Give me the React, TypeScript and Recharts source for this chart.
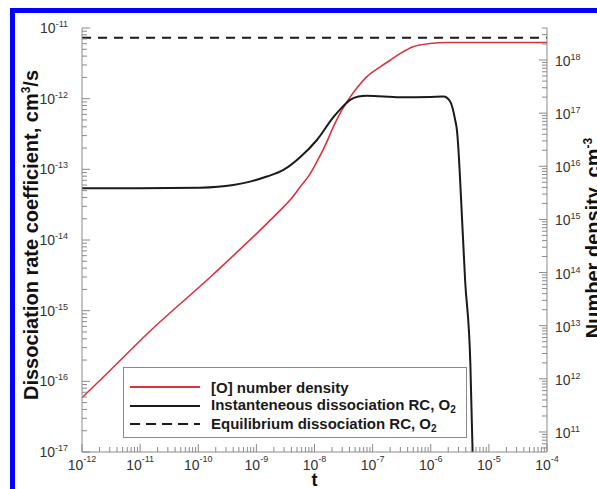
import React from 'react';
import { LineChart, Line, XAxis, YAxis, Legend } from 'recharts';

// ---------- data ----------
const T_DOMAIN: [number, number] = [1e-12, 1e-4];
const K_DOMAIN: [number, number] = [1e-17, 1e-11];
const N_DOMAIN: [number, number] = [4.2e10, 4.0e18];

// [O] number density (right axis)
const oTime = [1e-12, 3.16e-12, 1.3e-11, 1.82e-10, 2.56e-9, 3.8e-9, 5.65e-9, 8.4e-9, 1.15e-8, 1.52e-8, 2.11e-8, 2.99e-8, 4.1e-8, 5.62e-8, 7.9e-8, 1.35e-7, 2.0e-7, 2.97e-7, 4.98e-7, 9.8e-7, 1.9e-6, 1e-5, 1e-4];
const oDensity = [4.4e11, 1.5e12, 6.9e12, 9.3e13, 1.48e15, 2.31e15, 4.06e15, 7.2e15, 1.33e16, 2.44e16, 5.5e16, 1.16e17, 2.0e17, 3.16e17, 4.8e17, 7.4e17, 9.9e17, 1.32e18, 1.77e18, 2.04e18, 2.13e18, 2.14e18, 2.14e18];

// Instantaneous dissociation rate coefficient (left axis)
const instTime = [1e-12, 1e-11, 1.07e-10, 4.0e-10, 7.8e-10, 1.51e-9, 2.92e-9, 5.65e-9, 1.1e-8, 2.11e-8, 2.95e-8, 4.1e-8, 5.7e-8, 7.9e-8, 2.97e-7, 1.0e-6, 1.66e-6, 2.16e-6, 2.63e-6, 2.82e-6, 3.0e-6, 3.2e-6, 3.9e-6, 4.8e-6, 5.25e-6];
const instRate = [5.4e-14, 5.4e-14, 5.5e-14, 6.0e-14, 6.7e-14, 7.9e-14, 9.8e-14, 1.48e-13, 2.6e-13, 5.46e-13, 7.46e-13, 9.6e-13, 1.07e-12, 1.1e-12, 1.05e-12, 1.06e-12, 1.07e-12, 9.1e-13, 5.0e-13, 3.6e-13, 1.88e-13, 7.1e-14, 2.7e-15, 1.8e-16, 1e-17];

// Equilibrium dissociation rate coefficient (left axis)
const eqTime = [1e-12, 1e-4];
const eqRate = [7.3e-12, 7.3e-12];

const SERIES_NAMES = ['[O] number density', 'Instanteneous dissociation RC, O2', 'Equilibrium dissociation RC, O2'];
const LEGEND_TEXT = ['[O] number density', 'Instanteneous dissociation RC, O', 'Equilibrium dissociation RC, O'];
const LEGEND_SUB = ['', '2', '2'];

const oData = oTime.map((t, i) => ({ t, v: oDensity[i] }));
const instData = instTime.map((t, i) => ({ t, v: instRate[i] }));
const eqData = eqTime.map((t, i) => ({ t, v: eqRate[i] }));

// ---------- helpers ----------
function logTicks(min: number, max: number): number[] {
  const out: number[] = [];
  const e0 = Math.floor(Math.log10(min));
  const e1 = Math.ceil(Math.log10(max));
  for (let e = e0; e <= e1; e++) {
    for (let m = 1; m <= 9; m++) {
      const v = m * Math.pow(10, e);
      if (v >= min * (1 - 1e-9) && v <= max * (1 + 1e-9)) out.push(v);
    }
  }
  return out;
}
const isMajor = (v: number) => {
  const lg = Math.log10(v);
  return Math.abs(lg - Math.round(lg)) < 1e-6;
};

const FONT = '"Liberation Sans", Arial, Helvetica, sans-serif';
const AXIS_COLOR = '#8a8a8a';
const TICK_TEXT = '#333';
const MAJOR = 8;
const MINOR = 5;

const LeftTick = (props: any) => {
  const { x, y, payload } = props;
  const v = payload.value;
  const major = isMajor(v);
  return (
    <g>
      <line x1={x} y1={y} x2={x + (major ? MAJOR : MINOR)} y2={y} stroke={AXIS_COLOR} strokeWidth={1} />
      {major && (
        <text x={x - 14} y={y + 5} textAnchor="end" fontSize={14} fill={TICK_TEXT} fontFamily={FONT}>
          10<tspan dy={-6} fontSize={9}>{Math.round(Math.log10(v))}</tspan>
        </text>
      )}
    </g>
  );
};

const RightTick = (props: any) => {
  const { x, y, payload } = props;
  const v = payload.value;
  const major = isMajor(v);
  return (
    <g>
      <line x1={x} y1={y} x2={x - (major ? MAJOR : MINOR)} y2={y} stroke={AXIS_COLOR} strokeWidth={1} />
      {major && (
        <text x={x + 8} y={y + 6} textAnchor="start" fontSize={14} fill={TICK_TEXT} fontFamily={FONT}>
          10<tspan dy={-6} fontSize={9}>{Math.round(Math.log10(v))}</tspan>
        </text>
      )}
    </g>
  );
};

const BottomTick = (props: any) => {
  const { x, y, payload } = props;
  const v = payload.value;
  const major = isMajor(v);
  return (
    <g>
      <line x1={x} y1={y} x2={x} y2={y - (major ? MAJOR : MINOR)} stroke={AXIS_COLOR} strokeWidth={1} />
      {major && (
        <text x={x} y={y + 18} textAnchor="middle" fontSize={14} fill={TICK_TEXT} fontFamily={FONT}>
          10<tspan dy={-8} fontSize={9}>{Math.round(Math.log10(v))}</tspan>
        </text>
      )}
    </g>
  );
};

const LeftAxisLabel = (props: any) => {
  const vb = props.viewBox || { x: 0, y: 0, width: 0, height: 0 };
  const cx = vb.x + 38;
  const cy = vb.y + vb.height / 2 - 5;
  return (
    <text x={cx} y={cy} transform={`rotate(-90, ${cx}, ${cy})`} textAnchor="middle" fontSize={20} fontWeight="bold" fill="#111" fontFamily={FONT}>
      Dissociation rate coefficient, cm<tspan dy={-8} fontSize={12}>3</tspan><tspan dy={8}>/s</tspan>
    </text>
  );
};

const RightAxisLabel = (props: any) => {
  const vb = props.viewBox || { x: 0, y: 0, width: 0, height: 0 };
  const cx = vb.x + 53;
  const cy = vb.y + vb.height / 2 - 2;
  return (
    <text x={cx} y={cy} transform={`rotate(-90, ${cx}, ${cy})`} textAnchor="middle" fontSize={20} fontWeight="bold" fill="#111" fontFamily={FONT}>
      Number density, cm<tspan dy={-8} fontSize={12}>-3</tspan>
    </text>
  );
};

const BottomAxisLabel = (props: any) => {
  const vb = props.viewBox || { x: 0, y: 0, width: 0, height: 0 };
  return (
    <text x={vb.x + vb.width / 2} y={vb.y + 34} textAnchor="middle" fontSize={18} fontWeight="bold" fill="#111" fontFamily={FONT}>
      t
    </text>
  );
};

const LegendBox = (props: any) => {
  const payload = props.payload || [];
  const rows = SERIES_NAMES.map((name) => payload.find((p: any) => p.value === name)).filter(Boolean);
  return (
    <div
      style={{
        width: 344,
        height: 71,
        boxSizing: 'border-box',
        border: `1px solid ${AXIS_COLOR}`,
        background: '#fff',
        paddingTop: 10,
        paddingLeft: 6,
        fontFamily: FONT,
        fontWeight: 'bold',
        fontSize: 15,
        color: '#1a1a1a',
      }}
    >
      {rows.map((p: any, i: number) => (
        <div key={i} style={{ height: 18.5, display: 'flex', alignItems: 'center', whiteSpace: 'nowrap' }}>
          <svg width={70} height={6} style={{ marginRight: 11, flex: 'none' }}>
            <line x1={0} y1={3} x2={70} y2={3} stroke={p.color} strokeWidth={2} strokeDasharray={p.payload && p.payload.strokeDasharray ? '10 6' : undefined} />
          </svg>
          <span>
            {LEGEND_TEXT[i]}
            {LEGEND_SUB[i] && <sub style={{ fontSize: 10, verticalAlign: '-3px' }}>{LEGEND_SUB[i]}</sub>}
          </span>
        </div>
      ))}
    </div>
  );
};

export default function App() {
  return (
    <div style={{ position: 'absolute', left: 0, top: 0, width: 597, height: 489, background: '#fff', overflow: 'hidden' }}>
      <LineChart width={597} height={489} margin={{ top: 28, right: 0, bottom: 0, left: 0 }} style={{ background: '#fff' }}>
        <XAxis
          xAxisId="bottom"
          dataKey="t"
          type="number"
          scale="log"
          domain={T_DOMAIN}
          allowDataOverflow
          ticks={logTicks(T_DOMAIN[0], T_DOMAIN[1])}
          interval={0}
          tickSize={0}
          tickMargin={0}
          tickLine={false}
          tick={<BottomTick />}
          axisLine={{ stroke: AXIS_COLOR }}
          height={37}
          label={BottomAxisLabel}
        />
        <XAxis
          xAxisId="top"
          orientation="top"
          dataKey="t"
          type="number"
          scale="log"
          domain={T_DOMAIN}
          allowDataOverflow
          tick={false}
          tickLine={false}
          axisLine={{ stroke: AXIS_COLOR }}
          height={0}
        />
        <YAxis
          yAxisId="left"
          orientation="left"
          type="number"
          scale="log"
          domain={K_DOMAIN}
          allowDataOverflow
          ticks={logTicks(K_DOMAIN[0], K_DOMAIN[1])}
          interval={0}
          tickSize={0}
          tickMargin={0}
          tickLine={false}
          tick={<LeftTick />}
          axisLine={{ stroke: AXIS_COLOR }}
          width={82}
          label={LeftAxisLabel}
        />
        <YAxis
          yAxisId="right"
          orientation="right"
          type="number"
          scale="log"
          domain={N_DOMAIN}
          allowDataOverflow
          ticks={logTicks(N_DOMAIN[0], N_DOMAIN[1])}
          interval={0}
          tickSize={0}
          tickMargin={0}
          tickLine={false}
          tick={<RightTick />}
          axisLine={{ stroke: AXIS_COLOR }}
          width={50}
          label={RightAxisLabel}
        />
        <Legend
          layout="vertical"
          align="center"
          verticalAlign="middle"
          content={<LegendBox />}
          wrapperStyle={{ left: 123, top: 367, width: 344, height: 71 }}
        />
        <Line
          name={SERIES_NAMES[0]}
          data={oData}
          dataKey="v"
          xAxisId="bottom"
          yAxisId="right"
          type="monotone"
          stroke="#d8333f"
          strokeWidth={1.6}
          dot={false}
          activeDot={false}
          isAnimationActive={false}
        />
        <Line
          name={SERIES_NAMES[1]}
          data={instData}
          dataKey="v"
          xAxisId="bottom"
          yAxisId="left"
          type="monotone"
          stroke="#1a1a1a"
          strokeWidth={2}
          dot={false}
          activeDot={false}
          isAnimationActive={false}
        />
        <Line
          name={SERIES_NAMES[2]}
          data={eqData}
          dataKey="v"
          xAxisId="bottom"
          yAxisId="left"
          type="linear"
          stroke="#1a1a1a"
          strokeWidth={2}
          strokeDasharray="9 7"
          dot={false}
          activeDot={false}
          isAnimationActive={false}
        />
      </LineChart>
      <div style={{ position: 'absolute', left: 10, top: 8, width: 587, height: 5, background: '#0000ff' }} />
      <div style={{ position: 'absolute', left: 10, top: 8, width: 5, height: 481, background: '#0000ff' }} />
    </div>
  );
}
